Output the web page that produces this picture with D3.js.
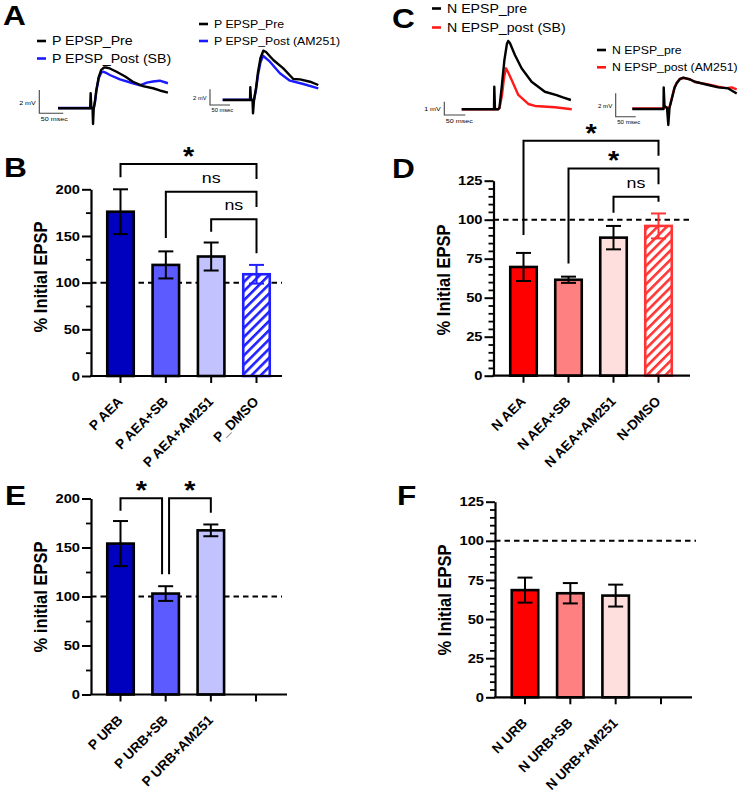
<!DOCTYPE html>
<html><head><meta charset="utf-8">
<script src="https://cdn.jsdelivr.net/npm/d3@7"></script>
<style>body{margin:0;background:#fff}svg{display:block}text{font-family:"Liberation Sans",Arial,sans-serif}</style>
</head><body><svg id="fig" width="750" height="795"></svg>
<script>
// ---------------- DATA ----------------
// Panel B
const bCats = ["P AEA","P AEA+SB","P AEA+AM251","P_DMSO"];
const bMeans = [176,119,128,109];
const bErrs = [24,14.5,15,10];
// Panel D
const dCats = ["N AEA","N AEA+SB","N AEA+AM251","N-DMSO"];
const dMeans = [69.7,61.5,88.5,96];
const dErrs = [9,2,7.5,8];
// Panel E
const eCats = ["P URB","P URB+SB","P URB+AM251"];
const eMeans = [154,103,167.5];
const eErrs = [23,7.5,6];
// Panel F
const fCats = ["N URB","N URB+SB","N URB+AM251"];
const fMeans = [68.5,66.5,65];
const fErrs = [8,6.5,7];
// y tick values
const ticks200 = [0,50,100,150,200];
const ticks125 = [0,25,50,75,100,125];
// significance comparisons [from, to, label, top, legFrom, legTo] (value units)
const bSig = [[0,3,"*",227,213,211],[1,3,"ns",197.4,147.8,181],[2,3,"ns",167.9,154.6,131.4]];
const dSig = [[0,3,"*",150.6,90.2,141],[1,3,"*",132.9,72,122.7],[2,3,"ns",114.7,104.5,111.5]];
const eSig = [[0,1,"*",200.2,187.6,122.7],[1,2,"*",200.2,122.7,185.5]];

// Traces: time (ms), voltage (mV)
const aL_t_pre  = [0,67,68,69.5,72,73,74.5,77,80,85,90,96,100,108,122,140,156,177,198,212,229];
const aL_v_pre  = [0,0,1.3,0,0,-1.35,0,0.6,1.6,2.7,3.3,3.5,3.5,3.42,3.14,2.73,2.28,1.91,1.72,1.53,1.34];
const aL_t_post = [0,67,69.5,72,74.5,77,80,85,90,94,100,108,129,156,171,185,198,212,229];
const aL_v_post = [0.02,0.02,0.05,0.02,0.03,0.5,1.5,2.6,3.05,3.14,3.05,2.86,2.49,2.15,1.97,2.2,2.3,2.37,2.15];

const aR_t_pre  = [0,68.3,69,70.8,74.5,75.8,78.3,83.3,88.3,94.5,101.5,108.3,126.5,151.5,176.5,193.3,218.3,239];
const aR_v_pre  = [0,0,1.62,0,0,-1.7,0,1.53,3.57,5.35,6.28,6.11,5.09,4.03,2.68,2.63,2.33,1.91];
const aR_t_post = [0,68.3,70.8,74.5,78.3,83.3,88.3,94.5,100.8,118,143,168,201.5,239];
const aR_v_post = [0.03,0.03,0.03,0.03,0.03,1.3,3.2,4.8,5.64,4.88,3.4,2.46,2.04,1.49];

const cL_t_pre  = [0,76.9,77.6,79.3,86.4,89.8,95.7,101.7,107.6,110.7,114.8,126.7,142.6,166.4,198,225.9,240.9,260];
const cL_v_pre  = [0,0,1.7,0,0,0.1,1.82,3.71,4.91,5.14,4.98,4.08,3.08,2.07,1.32,1.07,0.89,0.70];
const cL_t_post = [0,76.9,79.3,86.4,90,96,100.7,105.5,110.2,119,134.8,158.6,174.5,222,262];
const cL_v_post = [0,0,0,0,0.1,1.08,2.35,3.08,2.8,2.2,1.08,0.4,0.25,0.15,0];

const cR_t_pre  = [0,78,78.5,80.5,86.8,90,93,99.3,105.5,111,119.3,127.5,144.3,156.8,190,215,240,261];
const cR_v_pre  = [0,0,1.85,0.26,0.09,-1.37,0.09,0.94,1.8,2.2,2.56,2.68,2.52,2.33,2.05,1.85,1.76,1.33];
const cR_t_post = [0,78,80.5,86.8,93,99.3,105.5,111,119.3,127.5,144.3,156.8,190,215,235,248.5,261];
const cR_v_post = [0.05,0.05,0.2,0.1,0.15,1.0,1.85,2.25,2.6,2.65,2.55,2.3,2.1,1.9,1.78,1.85,1.68];

// ---------------- DRAW ----------------
const S = 1.15; // horizontal text stretch of the original figure
const svg = d3.select("#fig");
const BLUE = ["#0000BF","#5B5BFF","#C2C2FF","#2020FF"];
const RED  = ["#FF0000","#FF8080","#FFDEDE","#FF3535"];

const defs = svg.append("defs");
function hatch(id,color){
  const p = defs.append("pattern").attr("id",id).attr("patternUnits","userSpaceOnUse")
    .attr("width",6.5).attr("height",6.5).attr("patternTransform","rotate(45)");
  p.append("rect").attr("width",6.5).attr("height",6.5).attr("fill","#fff");
  p.append("rect").attr("x",0).attr("width",2.6).attr("height",6.5).attr("fill",color);
}
hatch("hatchBlue",BLUE[3]); hatch("hatchRed",RED[3]);

// text helper with horizontal stretch
function txt(g,x,y,t,fs,opt){
  opt = opt||{};
  const sx = opt.noStretch ? 1 : S;
  const el = g.append("text")
    .attr("transform",`translate(${x},${y}) scale(${sx},1)` + (opt.rot? ` rotate(${opt.rot})`:""))
    .attr("font-size",fs).text(t);
  if(opt.bold) el.attr("font-weight","bold");
  if(opt.anchor) el.attr("text-anchor",opt.anchor);
  if(opt.fill) el.attr("fill",opt.fill);
  return el;
}
function label(x,y,t){ txt(svg,x,y,t,27.5,{bold:true}); }

function barPanel(o){
  const g = svg.append("g");
  const dom = o.cats.slice(); while(dom.length<4) dom.push("__"+dom.length);
  const x = d3.scalePoint().domain(dom).range(o.xr);
  const y = d3.scaleLinear().domain([0,o.max]).range(o.yr);
  // y axis
  const ya = g.append("g").attr("transform",`translate(${o.ax},0)`)
    .call(d3.axisLeft(y).tickValues(o.ticks).tickSize(9).tickSizeOuter(0).tickFormat(""));
  ya.select(".domain").attr("stroke-width",2.2);
  ya.selectAll(".tick line").attr("stroke-width",2);
  o.ticks.forEach(v=>txt(g,o.ax-11,y(v)+4.6,d3.format("d")(v),12.8,{bold:true,anchor:"end"}));
  const minor = d3.range(0,o.max+0.01,o.minor).filter(v=>o.ticks.indexOf(v)<0);
  const ym = g.append("g").attr("transform",`translate(${o.ax},0)`)
    .call(d3.axisLeft(y).tickValues(minor).tickSize(5).tickSizeOuter(0).tickFormat(""));
  ym.select(".domain").remove();
  ym.selectAll(".tick line").attr("stroke-width",1.8);
  // dashed 100 line
  g.append("line").attr("x1",o.ax).attr("x2",o.dashEnd).attr("y1",y(100)).attr("y2",y(100))
    .attr("stroke","#000").attr("stroke-width",2).attr("stroke-dasharray","5.5,4");
  // bars
  const bw = 26.5;
  o.means.forEach((m,i)=>{
    const c = o.cats[i];
    const hatched = o.hatch && i===3;
    const col = hatched ? o.colors[3] : "#000";
    g.append("rect").attr("x",x(c)-bw/2).attr("width",bw).attr("y",y(m)).attr("height",y(0)-y(m))
      .attr("fill",hatched? `url(#${o.hatch})` : o.colors[i]).attr("stroke",col).attr("stroke-width",2.6);
    g.append("line").attr("x1",x(c)).attr("x2",x(c)).attr("y1",y(m-o.errs[i])).attr("y2",y(m+o.errs[i]))
      .attr("stroke",col).attr("stroke-width",2);
    [m-o.errs[i], m+o.errs[i]].forEach(v=>{
      g.append("line").attr("x1",x(c)-7.5).attr("x2",x(c)+7.5).attr("y1",y(v)).attr("y2",y(v))
        .attr("stroke",col).attr("stroke-width",2);
    });
  });
  // x axis
  g.append("line").attr("x1",o.ax-1).attr("x2",o.axEnd).attr("y1",y(0)).attr("y2",y(0)).attr("stroke","#000").attr("stroke-width",2.2);
  dom.forEach(c=>{
    g.append("line").attr("x1",x(c)).attr("x2",x(c)).attr("y1",y(0)).attr("y2",y(0)+7).attr("stroke","#000").attr("stroke-width",2);
  });
  o.cats.forEach(c=>{
    txt(g,x(c)+3,y(0)+26.5,c,13.6,{bold:true,anchor:"end",rot:-45,noStretch:true});
  });
  // y title
  txt(g,o.titleX,o.titleY,o.title,16.5,{bold:true,anchor:"middle",rot:-90});
  // significance
  (o.sig||[]).forEach(s=>{
    const xa = x(o.cats[s[0]]) + (o.legOff && o.legOff[s[0]] ? o.legOff[s[0]][0] : 0);
    const xb = x(o.cats[s[1]]) + (o.legOff && o.legOff[s[1]] ? o.legOff[s[1]][1] : 0);
    const yt = y(s[3]);
    g.append("path").attr("d",`M${xa},${y(s[4])}V${yt}H${xb}V${y(s[5])}`)
      .attr("fill","none").attr("stroke","#000").attr("stroke-width",2);
    const xm=(xa+xb)/2;
    if(s[2]==="*"){
      txt(g,xm,yt+1,"*",25,{bold:true,anchor:"middle"});
    } else {
      txt(g,xm,yt-9,"ns",15.5,{anchor:"middle"});
    }
  });
}

barPanel({cats:bCats,means:bMeans,errs:bErrs,colors:BLUE,hatch:"hatchBlue",max:200,ticks:ticks200,minor:25,
  xr:[120.5,256.5],yr:[376,189.3],ax:91,axEnd:282,dashEnd:282,title:"% Initial EPSP",titleX:47,titleY:277,sig:bSig});
barPanel({cats:dCats,means:dMeans,errs:dErrs,colors:RED,hatch:"hatchRed",max:125,ticks:ticks125,minor:5,
  xr:[523.5,658.5],yr:[375.7,180.7],ax:493.5,axEnd:690,dashEnd:690,title:"% Initial EPSP",titleX:450,titleY:280,sig:dSig});
barPanel({cats:eCats,means:eMeans,errs:eErrs,colors:BLUE,max:200,ticks:ticks200,minor:25,
  xr:[120.5,256],yr:[694.5,498.5],ax:91,axEnd:287,dashEnd:282,title:"% initial EPSP",titleX:47,titleY:597,sig:eSig,
  legOff:{1:[3.4,-3.6]}});
barPanel({cats:fCats,means:fMeans,errs:fErrs,colors:RED,max:125,ticks:ticks125,minor:5,
  xr:[525,661],yr:[697.3,501.7],ax:495,axEnd:692,dashEnd:696,title:"% Initial EPSP",titleX:451,titleY:600});

// ---------- traces ----------
function tracePanel(o){
  const g = svg.append("g");
  const x = d3.scaleLinear().domain([0,1]).range([o.x0,o.x0+o.pxms]);
  const y = d3.scaleLinear().domain([0,1]).range([o.y0,o.y0-o.pxmv]);
  const line = d3.line().x(d=>x(d[0])).y(d=>y(d[1]));
  const post = o.tPost.map((t,i)=>[t,o.vPost[i]]);
  const pre  = o.tPre.map((t,i)=>[t,o.vPre[i]]);
  g.append("path").attr("d",line(post)).attr("fill","none").attr("stroke",o.col).attr("stroke-width",2.4).attr("stroke-linejoin","round");
  g.append("path").attr("d",line(pre)).attr("fill","none").attr("stroke","#000").attr("stroke-width",2.4).attr("stroke-linejoin","round");
  // scale bar
  const sx = o.sb[0], sy = o.sb[1];
  g.append("path").attr("d",`M${sx},${sy - o.mv*o.pxmv}V${sy}H${sx+50*o.pxms}`)
    .attr("fill","none").attr("stroke","#444").attr("stroke-width",1.1);
  txt(g,sx-3.5,sy - o.mv*o.pxmv/2 + 3,o.mv+" mV",o.sfs,{anchor:"end"});
  txt(g,sx+1.5,sy+o.sfs+1.5,"50 msec",o.sfs);
  // legend
  const L = o.leg;
  [[ "#000", o.names[0]],[o.col,o.names[1]]].forEach((d,i)=>{
    const ly = L.y + i*L.dy;
    g.append("line").attr("x1",L.x).attr("x2",L.x+9).attr("y1",ly).attr("y2",ly).attr("stroke",d[0]).attr("stroke-width",2.6);
    txt(g,L.x+15,ly+L.fs*0.36,d[1],L.fs);
  });
}
tracePanel({x0:58,pxms:0.48,y0:108.3,pxmv:11.65,tPre:aL_t_pre,vPre:aL_v_pre,tPost:aL_t_post,vPost:aL_v_post,col:"#1A1AFF",
  sb:[39.3,113.3],mv:2,sfs:6.2,leg:{x:37,y:41,dy:17.5,fs:12.3},names:["P EPSP_Pre","P EPSP_Post (SB)"]});
tracePanel({x0:222.7,pxms:0.4,y0:100,pxmv:7.85,tPre:aR_t_pre,vPre:aR_v_pre,tPost:aR_t_post,vPost:aR_v_post,col:"#1A1AFF",
  sb:[210,105],mv:2,sfs:5,leg:{x:199,y:24,dy:17,fs:10.7},names:["P EPSP_Pre","P EPSP_Post (AM251)"]});
tracePanel({x0:461.7,pxms:0.42,y0:109.3,pxmv:13.3,tPre:cL_t_pre,vPre:cL_v_pre,tPost:cL_t_post,vPost:cL_v_post,col:"#FF1A1A",
  sb:[444.3,115],mv:1,sfs:6.2,leg:{x:432,y:8.5,dy:19,fs:12.3},names:["N EPSP_pre","N EPSP_post (SB)"]});
tracePanel({x0:632.3,pxms:0.4,y0:109,pxmv:11.7,tPre:cR_t_pre,vPre:cR_v_pre,tPost:cR_t_post,vPost:cR_v_post,col:"#FF1A1A",
  sb:[615.7,116.7],mv:2,sfs:5.3,leg:{x:597,y:50,dy:17.3,fs:10.7},names:["N EPSP_pre","N EPSP_post (AM251)"]});

label(3,25,"A"); label(392,28,"C"); label(4,177,"B"); label(392,178,"D"); label(5,505,"E"); label(397,505,"F");
</script></body></html>
